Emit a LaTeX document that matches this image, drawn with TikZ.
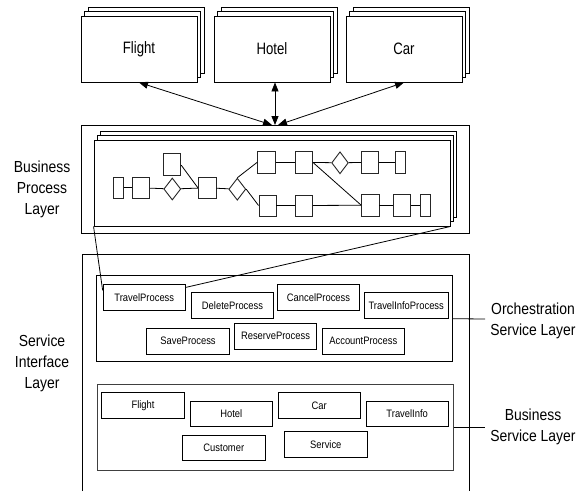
\documentclass[tikz,border=0pt]{standalone}
\usepackage{fontspec}
\setmainfont{Liberation Sans}[FakeStretch=0.87]
\newfontfamily\topfont{Liberation Sans}[FakeStretch=0.8]
\usetikzlibrary{shapes.geometric,arrows.meta}
\tikzset{
  frame/.style={draw=black,line width=0.9pt},
  stackbox/.style={draw=black,line width=0.9pt,fill=white,minimum width=116pt,minimum height=66pt,inner sep=0pt,font=\topfont\fontsize{16.5}{19}\selectfont},
  flowbox/.style={draw=black!85,line width=0.9pt,fill=white,inner sep=0pt},
  flowdia/.style={diamond,draw=black!85,line width=0.9pt,fill=white,inner sep=0pt},
  flowline/.style={draw=black,line width=0.8pt},
  svcbox/.style={draw=black,line width=0.8pt,fill=white,inner sep=0pt,minimum width=82.5pt,minimum height=25.5pt,font=\fontsize{10.8}{12}\selectfont},
  layerlabel/.style={align=center,font=\fontsize{16}{21}\selectfont,inner sep=0pt},
  biarrow/.style={line width=0.8pt,{Triangle[length=9pt,width=7pt]}-{Triangle[length=9pt,width=7pt]}}
}
\begin{document}
\begin{tikzpicture}[x=1pt,y=-1pt]
\useasboundingbox (0,0) rectangle (586,491);
% ---------- top stacked boxes ----------
\foreach \nm/\cx/\tx in {fl/139/Flight,ho/272/Hotel,ca/404/Car}{
  \node[stackbox] (\nm b) at (\cx+7,49-9) {};
  \node[stackbox] (\nm m) at (\cx+3.5,49-4.5) {};
  \node[stackbox] (\nm) at (\cx,49) {\tx};
}
% ---------- business process layer ----------
\node[frame,minimum width=388pt,minimum height=108pt,inner sep=0pt] (bpl) at (275,179) {};
\node[frame,fill=white,minimum width=356pt,minimum height=86pt,inner sep=0pt] (bpb) at (278,174.5) {};
\node[frame,fill=white,minimum width=356pt,minimum height=86pt,inner sep=0pt] (bpm) at (275,178.5) {};
\node[frame,fill=white,minimum width=356pt,minimum height=86pt,inner sep=0pt] (bpf) at (272,183) {};
\coordinate (m) at (275,125);
\draw[biarrow] (fl.south) -- ([xshift=-3pt]m);
\draw[biarrow] (m |- ho.south) -- (m);
\draw[biarrow] (ca.south) -- ([xshift=3pt]m);
% flow elements
\node[flowbox,minimum width=10pt,minimum height=21pt] (A) at (118.3,187.8) {};
\node[flowbox,minimum width=17pt,minimum height=21pt] (B) at (141.3,187.8) {};
\node[flowdia,minimum width=17pt,minimum height=22pt] (D1) at (172.3,189) {};
\node[flowbox,minimum width=17pt,minimum height=21.7pt] (C) at (172.3,164.2) {};
\node[flowbox,minimum width=17.7pt,minimum height=21pt] (E) at (207.2,187.8) {};
\node[flowdia,minimum width=17pt,minimum height=22pt] (D2) at (237.3,189.2) {};
\node[flowbox,minimum width=17.7pt,minimum height=21.7pt] (F) at (266.5,162.3) {};
\node[flowbox,minimum width=17.3pt,minimum height=21.7pt] (G) at (303.7,162.3) {};
\node[flowdia,minimum width=16.7pt,minimum height=22pt] (D3) at (340,162.8) {};
\node[flowbox,minimum width=16.7pt,minimum height=21.7pt] (H) at (370,162.3) {};
\node[flowbox,minimum width=10pt,minimum height=21.7pt] (I) at (400,162.3) {};
\node[flowbox,minimum width=17pt,minimum height=21pt] (J) at (267.5,205.5) {};
\node[flowbox,minimum width=17.3pt,minimum height=21pt] (K) at (303.7,205.5) {};
\node[flowbox,minimum width=17.3pt,minimum height=21.7pt] (L) at (370.3,205.2) {};
\node[flowbox,minimum width=17.3pt,minimum height=21.7pt] (M) at (402,205.2) {};
\node[flowbox,minimum width=9.3pt,minimum height=21.7pt] (N) at (425.3,205.2) {};
\draw[flowline] (A) -- (B);
\draw[flowline] (B) -- (D1);
\draw[flowline] (D1) -- (E);
\draw[flowline] ([yshift=-1pt]C.east) -- (E.west);
\draw[flowline] (E) -- (D2);
\draw[flowline] (D2.north) -- (F.west);
\draw[flowline] (D2.east) -- (J.west);
\draw[flowline] (F) -- (G);
\draw[flowline] (G) -- (D3);
\draw[flowline] (D3) -- (H);
\draw[flowline] (H) -- (I);
\draw[flowline] (G.east) -- (L.west);
\draw[flowline] (J) -- (K);
\draw[flowline] (K) -- (L);
\draw[flowline] (L) -- (M);
\draw[flowline] (M) -- (N);
\node[layerlabel] (bpltext) at (42,189) {Business\\Process\\Layer};
% ---------- service interface layer ----------
\draw[frame] (82,491) -- (82,254.5) -- (469,254.5) -- (469,491);
\node[layerlabel] (siltext) at (42,363) {Service\\Interface\\Layer};
% orchestration
\node[frame,minimum width=356pt,minimum height=86pt,inner sep=0pt] (orch) at (274.7,318.7) {};
\node[svcbox] (tp) at (144.3,297.5) {TravelProcess};
\node[svcbox] (dp) at (232.5,305.3) {DeleteProcess};
\node[svcbox] (cp) at (318.5,297.2) {CancelProcess};
\node[svcbox,minimum width=84.3pt] (tip) at (406.2,305.3) {TravelInfoProcess};
\node[svcbox] (sp) at (188,341.2) {SaveProcess};
\node[svcbox] (rp) at (275.5,336.3) {ReserveProcess};
\node[svcbox] (ap) at (363.3,341.2) {AccountProcess};
\draw[flowline] (bpf.south west) -- ([yshift=-6pt]tp.north west);
\draw[flowline] (bpf.south east) -- ([yshift=-3pt]tp.north east);
\coordinate (osl) at (485,319);
\draw[flowline] (orch.east) -- (osl);
\node[layerlabel] (osltext) at (533,320.5) {Orchestration\\Service Layer};
% business service
\node[frame,draw=black!75,minimum width=356pt,minimum height=86pt,inner sep=0pt] (bsl) at (275.3,427) {};
\node[svcbox] (sfl) at (143,405.5) {Flight};
\node[svcbox] (sho) at (231.3,413.8) {Hotel};
\node[svcbox] (sca) at (319.2,405.5) {Car};
\node[svcbox] (sti) at (407.2,413.8) {TravelInfo};
\node[svcbox] (scu) at (223.8,448) {Customer};
\node[svcbox] (sse) at (325.8,444.2) {Service};
\coordinate (bslc) at (485,427);
\draw[flowline] (bsl.east) -- (bslc);
\node[layerlabel] (bsltext) at (533,426.7) {Business\\Service Layer};
\end{tikzpicture}
\end{document}
